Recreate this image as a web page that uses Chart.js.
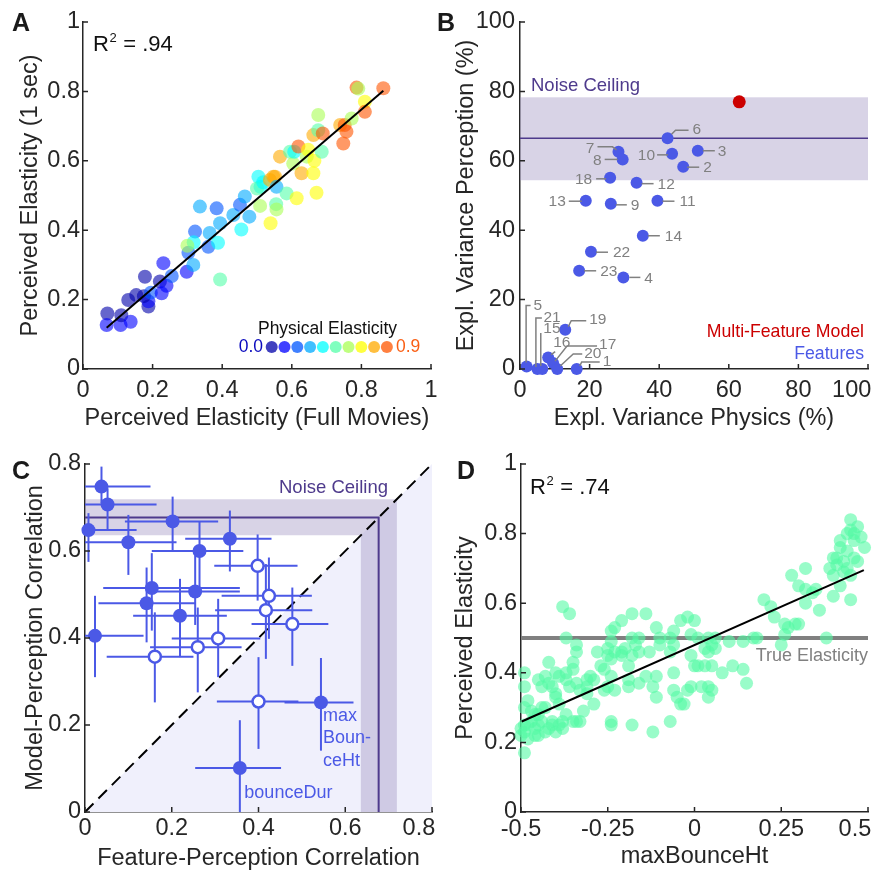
<!DOCTYPE html>
<html>
<head>
<meta charset="utf-8">
<script src="https://cdn.jsdelivr.net/npm/chart.js@4.4.1/dist/chart.umd.min.js"></script>
<style>
  html, body { margin: 0; padding: 0; background: #fff; width: 875px; height: 870px; overflow: hidden; }
  canvas { position: absolute; left: 0; top: 0; }
</style>
</head>
<body>
<canvas id="panelA" width="875" height="870"></canvas>
<canvas id="panelB" width="875" height="870"></canvas>
<canvas id="panelC" width="875" height="870"></canvas>
<canvas id="panelD" width="875" height="870"></canvas>
<script>
// ---------- Panel A: full movies vs 1-second clips ----------
// [perceived (full movies), perceived (1 sec), physical elasticity level 0..9]
const ratingsA = [
  [0.070,0.160,0],[0.068,0.127,1],[0.108,0.127,1],[0.110,0.155,0],[0.137,0.136,1],[0.130,0.199,0],
  [0.153,0.213,0],[0.178,0.266,0],[0.188,0.180,0],[0.188,0.195,1],[0.175,0.210,0],[0.195,0.220,2],
  [0.221,0.252,0],[0.226,0.218,1],[0.231,0.305,1],[0.240,0.240,1],[0.255,0.268,2],[0.298,0.280,1],
  [0.303,0.335,2],[0.317,0.300,3],[0.322,0.396,2],[0.336,0.468,3],[0.318,0.365,4],[0.300,0.355,6],
  [0.360,0.352,2],[0.364,0.392,3],[0.384,0.463,2],[0.388,0.364,4],[0.394,0.420,3],[0.394,0.258,5],
  [0.432,0.444,3],[0.451,0.473,2],[0.465,0.497,3],[0.455,0.402,4],[0.478,0.439,3],[0.504,0.554,4],
  [0.510,0.525,4],[0.500,0.520,5],[0.509,0.470,6],[0.518,0.538,4],[0.547,0.554,8],[0.552,0.554,8],
  [0.537,0.545,8],[0.556,0.525,3],[0.555,0.475,5],[0.556,0.460,6],[0.539,0.420,7],[0.566,0.612,8],
  [0.585,0.506,5],[0.595,0.626,5],[0.604,0.592,6],[0.607,0.626,4],[0.619,0.641,9],[0.614,0.492,7],
  [0.628,0.564,8],[0.643,0.612,6],[0.647,0.632,7],[0.662,0.564,7],[0.665,0.600,7],[0.671,0.508,7],
  [0.676,0.732,6],[0.662,0.674,8],[0.676,0.688,5],[0.686,0.626,5],[0.689,0.679,9],[0.739,0.703,8],
  [0.748,0.650,9],[0.757,0.684,9],[0.752,0.703,9],[0.772,0.722,6],[0.786,0.811,9],[0.791,0.808,6],
  [0.810,0.770,7],[0.810,0.741,9],[0.863,0.809,9]
];
const fitAx = [0.068, 0.863];
const fitAy = [0.119, 0.802];
const r2A = '.94';
const physLevelNames = ['0.0', '0.9'];
const ticksA = [0, 0.2, 0.4, 0.6, 0.8, 1];
const tickLabelsA = ['0', '0.2', '0.4', '0.6', '0.8', '1'];

// ---------- Panel B: explained variance per feature ----------
const featureIds     = [6, 3, 10, 2, 7, 8, 18, 12, 13, 9, 11, 14, 22, 23, 4, 19, 5, 21, 15, 16, 17, 20, 1];
const physicsExpl    = [42.4, 51.1, 43.7, 46.9, 28.3, 29.5, 25.9, 33.5, 18.9, 26.1, 39.5, 35.3, 20.4, 17.0, 29.7, 13.0, 1.9, 5.0, 6.4, 8.1, 9.5, 10.7, 16.3];
const perceptionExpl = [66.5, 62.9, 62.0, 58.3, 62.6, 60.4, 55.1, 53.7, 48.5, 47.6, 48.5, 38.4, 33.8, 28.3, 26.4, 11.3, 0.7, 0.0, 0.0, 3.3, 1.7, 0.0, 0.0];
const multiFeature   = [63.0, 77.0];
const noiseCeilB     = [54.4, 66.5, 78.3];   // lower, mean, upper
const ticksB = [0, 20, 40, 60, 80, 100];
const tickLabelsB = ['0', '20', '40', '60', '80', '100'];

// ---------- Panel C: feature vs model correlation with perception ----------
const featPercCorr  = [0.038,0.052,0.008,0.100,0.202,0.334,0.264,0.398,0.154,0.254,0.142,0.219,0.023,0.424,0.417,0.478,0.307,0.260,0.161,0.400,0.544,0.357];
const featPercLo    = [0.000,0.000,0.000,0.000,0.092,0.231,0.154,0.298,0.042,0.161,0.031,0.111,0.000,0.315,0.300,0.384,0.200,0.150,0.050,0.304,0.460,0.254];
const featPercHi    = [0.151,0.165,0.119,0.211,0.307,0.430,0.365,0.490,0.357,0.357,0.254,0.327,0.135,0.523,0.524,0.561,0.404,0.361,0.250,0.492,0.619,0.452];
const modelPercCorr = [0.748,0.707,0.648,0.620,0.668,0.628,0.600,0.566,0.515,0.507,0.480,0.451,0.405,0.497,0.464,0.432,0.399,0.379,0.357,0.254,0.252,0.101];
const modelPercLo   = [0.710,0.648,0.575,0.545,0.600,0.553,0.506,0.486,0.417,0.430,0.390,0.356,0.310,0.398,0.352,0.336,0.310,0.275,0.252,0.145,0.141,0.000];
const modelPercHi   = [0.794,0.744,0.687,0.683,0.725,0.693,0.667,0.638,0.595,0.590,0.562,0.536,0.497,0.585,0.570,0.516,0.490,0.470,0.459,0.356,0.354,0.211];
const filledMarker  = [1,1,1,1,1,1,1,0,1,1,1,1,1,0,0,0,0,0,0,0,1,1];
const noiseCeilC    = [0.636, 0.677, 0.719];
const ticksC = [0, 0.2, 0.4, 0.6, 0.8];
const tickLabelsC = ['0', '0.2', '0.4', '0.6', '0.8'];

// ---------- Panel D: maxBounceHt vs perceived elasticity ----------
const bounceVsPerceived = [
  [0.45,0.84],[0.47,0.82],[0.45,0.81],[0.46,0.80],[0.48,0.79],[0.44,0.80],[0.42,0.78],[0.46,0.78],[0.49,0.76],[0.42,0.76],
  [0.44,0.75],[0.40,0.73],[0.41,0.73],[0.43,0.72],[0.46,0.73],[0.39,0.70],[0.41,0.71],[0.44,0.70],[0.47,0.72],[0.40,0.68],
  [0.43,0.69],[0.45,0.68],[0.42,0.65],[0.40,0.62],[0.45,0.61],[0.38,0.50],
  [0.32,0.70],[0.28,0.68],[0.30,0.65],[0.32,0.64],[0.32,0.60],[0.36,0.58],[0.34,0.63],[0.35,0.64],[0.27,0.53],[0.26,0.54],
  [0.29,0.54],[0.30,0.54],[0.26,0.51],[0.23,0.56],[0.20,0.61],[0.22,0.59],[0.25,0.48],
  [0.18,0.50],[0.17,0.50],[0.14,0.49],[0.10,0.49],[0.06,0.50],[0.06,0.47],[0.04,0.50],[0.03,0.47],[0.04,0.46],[0.03,0.42],
  [0.05,0.42],[0.08,0.40],[0.11,0.42],[0.14,0.41],[0.15,0.37],[0.05,0.48],[0.00,0.55],[-0.02,0.56],[-0.04,0.55],[-0.06,0.52],
  [-0.07,0.50],[-0.01,0.51],[0.01,0.50],[-0.01,0.45],[0.00,0.42],[0.01,0.42],[-0.01,0.36],[0.02,0.36],[-0.02,0.35],[0.04,0.36],
  [0.04,0.33],[0.05,0.35],[-0.06,0.40],[-0.07,0.46],[-0.06,0.35],[-0.05,0.33],[-0.04,0.31],[-0.07,0.26],[-0.11,0.33],[-0.11,0.39],
  [-0.12,0.36],[-0.14,0.39],[-0.10,0.50],[-0.10,0.48],[-0.06,0.48],[-0.11,0.53],[-0.14,0.57],[-0.16,0.50],[-0.13,0.46],[-0.16,0.46],
  [-0.18,0.57],[-0.18,0.50],[-0.17,0.48],[-0.18,0.45],[-0.19,0.42],[-0.19,0.36],[-0.19,0.38],[-0.16,0.37],[-0.18,0.25],[-0.21,0.55],
  [-0.23,0.53],[-0.24,0.52],[-0.24,0.49],[-0.25,0.47],[-0.25,0.45],[-0.24,0.44],[-0.27,0.42],[-0.26,0.41],[-0.24,0.39],[-0.23,0.35],
  [-0.25,0.36],[-0.26,0.35],[-0.24,0.26],[-0.24,0.25],[-0.23,0.46],[-0.21,0.46],[-0.21,0.45],[-0.20,0.47],[-0.12,0.23],[-0.03,0.31],
  [-0.38,0.59],[-0.36,0.57],[-0.37,0.50],[-0.34,0.48],[-0.34,0.46],[-0.35,0.43],[-0.35,0.41],[-0.34,0.37],[-0.37,0.40],[-0.37,0.38],
  [-0.36,0.36],[-0.39,0.39],[-0.40,0.40],[-0.42,0.43],[-0.43,0.39],[-0.42,0.37],[-0.41,0.36],[-0.45,0.38],[-0.44,0.36],[-0.40,0.34],
  [-0.40,0.33],[-0.39,0.31],[-0.37,0.28],[-0.38,0.26],[-0.35,0.26],[-0.34,0.26],[-0.33,0.26],[-0.32,0.29],[-0.31,0.38],[-0.31,0.36],
  [-0.30,0.39],[-0.29,0.38],[-0.29,0.31],[-0.28,0.46],[-0.31,0.34],[-0.33,0.35],[-0.49,0.40],[-0.49,0.36],[-0.49,0.30],[-0.48,0.32],
  [-0.47,0.29],[-0.46,0.28],[-0.47,0.26],[-0.49,0.25],[-0.50,0.24],[-0.49,0.23],[-0.48,0.21],[-0.50,0.22],[-0.49,0.17],[-0.46,0.24],
  [-0.45,0.25],[-0.44,0.26],[-0.43,0.23],[-0.42,0.24],[-0.45,0.28],[-0.43,0.30],[-0.44,0.30],[-0.41,0.26],[-0.40,0.23],[-0.38,0.24],
  [-0.39,0.25],[-0.41,0.25],[-0.45,0.22],[-0.46,0.22],[-0.48,0.25]
];
const fitDx = [-0.498, 0.488];
const fitDy = [0.260, 0.695];
const trueElasticity = 0.5;
const r2D = '.74';
const ticksDx = [-0.5, -0.25, 0, 0.25, 0.5];
const tickLabelsDx = ['-0.5', '-0.25', '0', '0.25', '0.5'];
const ticksDy = [0, 0.2, 0.4, 0.6, 0.8, 1];
const tickLabelsDy = ['0', '0.2', '0.4', '0.6', '0.8', '1'];

// ---------- shared styling ----------
const FONT = '"Liberation Sans", Arial, Helvetica, sans-serif';
const INK = '#262626';
const TICK_SIZE = 23.5;
const TITLE_SIZE = 23.5;
const HALF_LINE = TICK_SIZE * 1.2 / 2;
const BLUE = '#4b59e6';
const PURPLE = 'rgb(78,58,140)';
const BAND = 'rgba(158,145,192,0.4)';
const GRAY = 'rgb(128,128,128)';
Chart.defaults.font.family = FONT;

// jet colour map sampled at 12 levels; the first ten are used
const JET = [[0,0,170],[0,0,255],[0,85,255],[0,170,255],[0,255,255],[85,255,170],[170,255,85],[255,255,0],[255,170,0],[255,85,0]];
const jet = (k, a) => `rgba(${JET[k][0]},${JET[k][1]},${JET[k][2]},${a})`;

function xAxis(o) {
  return {
    type: 'linear', position: 'bottom', min: o.min, max: o.max,
    afterBuildTicks: s => { s.ticks = o.ticks.map(v => ({ value: v })); },
    afterFit: s => { s.height = o.height; s.paddingLeft = 0; s.paddingRight = 0; s.paddingTop = 0; s.paddingBottom = 0; },
    grid: { display: false, drawTicks: false },
    border: { display: true, color: INK, width: 1.5 },
    ticks: {
      autoSkip: false, maxRotation: 0, minRotation: 0, color: INK, padding: o.labelGap,
      font: { family: FONT, size: TICK_SIZE },
      callback: (v, i) => o.labels[i] + (i === o.labels.length - 1 ? ' '.repeat(o.lastPad || 0) : '')
    },
    title: { display: true, text: o.title, color: INK, font: { family: FONT, size: TITLE_SIZE }, padding: { top: 0, bottom: o.titleGap } }
  };
}
function yAxis(o) {
  return {
    type: 'linear', position: 'left', min: o.min, max: o.max,
    afterBuildTicks: s => { s.ticks = o.ticks.map(v => ({ value: v })); },
    afterFit: s => { s.width = o.width; s.paddingLeft = 0; s.paddingRight = 0; s.paddingTop = 0; s.paddingBottom = 0; },
    grid: { display: false, drawTicks: false },
    border: { display: true, color: INK, width: 1.5 },
    ticks: {
      autoSkip: false, color: INK, padding: o.labelGap,
      font: { family: FONT, size: TICK_SIZE },
      callback: (v, i) => o.labels[i]
    },
    title: { display: true, text: o.title, color: INK, font: { family: FONT, size: TITLE_SIZE }, padding: { top: o.titleGap, bottom: 0 } }
  };
}

// short tick marks pointing into the plot
const inwardTicks = {
  id: 'inwardTicks',
  afterDraw(chart) {
    const { ctx, chartArea: a, scales: { x, y } } = chart;
    ctx.save();
    ctx.strokeStyle = INK; ctx.lineWidth = 1.5;
    ctx.beginPath();
    x.ticks.forEach(t => { const p = x.getPixelForValue(t.value); ctx.moveTo(p, a.bottom); ctx.lineTo(p, a.bottom - 5); });
    y.ticks.forEach(t => { const p = y.getPixelForValue(t.value); ctx.moveTo(a.left, p); ctx.lineTo(a.left + 5, p); });
    ctx.stroke();
    ctx.restore();
  }
};

function text(ctx, s, x, y, size, color, align, weight) {
  ctx.font = `${weight || 'normal'} ${size}px ${FONT}`;
  ctx.fillStyle = color;
  ctx.textAlign = align || 'left';
  ctx.textBaseline = 'middle';
  ctx.fillText(s, x, y);
}
function drawR2(ctx, x, baseline, val) {
  ctx.textAlign = 'left'; ctx.textBaseline = 'alphabetic'; ctx.fillStyle = '#111';
  ctx.font = `22px ${FONT}`;
  ctx.fillText('R', x, baseline);
  const w = ctx.measureText('R').width;
  ctx.font = `13px ${FONT}`;
  ctx.fillText('2', x + w + 0.5, baseline - 9);
  const w2 = ctx.measureText('2').width;
  ctx.font = `22px ${FONT}`;
  ctx.fillText(' = ' + val, x + w + w2 + 1, baseline);
}
function line(ctx, pts) {
  ctx.beginPath();
  pts.forEach((p, i) => i ? ctx.lineTo(p[0], p[1]) : ctx.moveTo(p[0], p[1]));
  ctx.stroke();
}

const baseOptions = (padding, scales, plugins) => ({
  responsive: false, animation: false, events: [], devicePixelRatio: 1,
  layout: { padding, autoPadding: false },
  plugins: Object.assign({ legend: { display: false }, tooltip: { enabled: false } }, plugins || {}),
  scales
});

// ================= Panel A =================
const decorA = {
  id: 'decorA',
  afterDraw(chart) {
    const { ctx, chartArea: a } = chart;
    ctx.save();
    text(ctx, 'A', 12, 24, 25, '#1a1a1a', 'left', 'bold');
    drawR2(ctx, a.left + 10, 51, r2A);
    // colour key for physical elasticity
    text(ctx, 'Physical Elasticity', 327.5, 329.5, 17.5, '#111', 'center');
    JET.forEach((c, k) => {
      ctx.fillStyle = jet(k, 0.75);
      ctx.beginPath(); ctx.arc(271.7 + k * 12.8, 347, 6, 0, Math.PI * 2); ctx.fill();
    });
    text(ctx, physLevelNames[0], 263, 347.5, 17.5, 'rgb(10,10,190)', 'right');
    text(ctx, physLevelNames[1], 396, 347.5, 17.5, 'rgb(250,95,20)', 'left');
    ctx.restore();
  }
};
new Chart(document.getElementById('panelA'), {
  type: 'scatter',
  data: { datasets: [
    { data: fitAx.map((v, i) => ({ x: v, y: fitAy[i] })), showLine: true, borderColor: '#000', borderWidth: 2, pointRadius: 0, order: 0, clip: false },
    { data: ratingsA.map(r => ({ x: r[0], y: r[1] })), backgroundColor: ratingsA.map(r => jet(r[2], 0.6)), borderWidth: 0, pointRadius: 7, order: 1, clip: false }
  ] },
  options: baseOptions({ left: 10, top: 22, right: 444, bottom: 437 }, {
    x: xAxis({ min: 0, max: 1, ticks: ticksA, labels: tickLabelsA, title: 'Perceived Elasticity (Full Movies)', height: 64, labelGap: 390.7 - 369 - HALF_LINE, titleGap: 0 }),
    y: yAxis({ min: 0, max: 1, ticks: ticksA, labels: tickLabelsA, title: 'Perceived Elasticity (1 sec)', width: 73, labelGap: 3, titleGap: 31 - 10 - HALF_LINE })
  }),
  plugins: [inwardTicks, decorA]
});

// ================= Panel B =================
// leader lines and label anchors, in pixels relative to each feature's marker
const leaderB = {
  6:  { path: [[4,-4],[8,-8],[21,-8]], at: [25,-9], align: 'left' },
  3:  { path: [[5,0],[17,0]], at: [20,1], align: 'left' },
  10: { path: [[-15,1],[-4,1]], at: [-17,2], align: 'right' },
  2:  { path: [[4,0.5],[16,0.5]], at: [20,1], align: 'left' },
  7:  { path: [[-21,-5],[-6,-5],[-2,-2]], at: [-24,-3], align: 'right' },
  8:  { path: [[-18,0],[-5,0]], at: [-21,1], align: 'right' },
  18: { path: [[-14,1],[-4,1]], at: [-18,1.5], align: 'right' },
  12: { path: [[5,1],[17,1]], at: [21,2], align: 'left' },
  13: { path: [[-17,0.5],[-4,0.5]], at: [-20,1.5], align: 'right' },
  9:  { path: [[5,1],[16,1]], at: [20,2], align: 'left' },
  11: { path: [[5,0.5],[17,0.5]], at: [22,1.5], align: 'left' },
  14: { path: [[5,0],[17,0]], at: [22,1], align: 'left' },
  22: { path: [[5,0.5],[17,0.5]], at: [22,1], align: 'left' },
  23: { path: [[5,0],[17,0]], at: [21,1], align: 'left' },
  4:  { path: [[6,0],[17,0]], at: [21,1], align: 'left' },
  19: { path: [[3,-3],[6,-9],[21,-9]], at: [24,-10], align: 'left' },
  5:  { path: [[-0.5,-4],[-0.5,-61],[4,-61]], at: [7,-61], align: 'left' },
  21: { path: [[-1.5,-2],[-1.5,-51],[4.5,-51]], at: [6,-51], align: 'left' },
  15: { path: [[-1.5,-3],[-1.5,-36]], at: [1,-40], align: 'left' },
  16: { path: [[3,-3],[7,-6]], at: [5,-15], align: 'left' },
  17: { path: [[2,-2],[14,-17],[44,-17]], at: [46,-18.5], align: 'left' },
  20: { path: [[3,-3],[16,-15],[25,-15]], at: [27,-15], align: 'left' },
  1:  { path: [[3,-3],[5,-7],[23,-7]], at: [26,-7], align: 'left' }
};
const decorB = {
  id: 'decorB',
  beforeDatasetsDraw(chart) {
    const { ctx, chartArea: a, scales: { y } } = chart;
    ctx.save();
    ctx.fillStyle = BAND;
    const top = y.getPixelForValue(noiseCeilB[2]), bot = y.getPixelForValue(noiseCeilB[0]);
    ctx.fillRect(a.left, top, a.right - a.left, bot - top);
    ctx.strokeStyle = PURPLE; ctx.lineWidth = 1.5;
    const m = y.getPixelForValue(noiseCeilB[1]);
    line(ctx, [[a.left, m], [a.right, m]]);
    ctx.restore();
  },
  afterDraw(chart) {
    const { ctx, chartArea: a, scales: { x, y } } = chart;
    ctx.save();
    ctx.strokeStyle = GRAY; ctx.lineWidth = 1.5;
    featureIds.forEach((id, i) => {
      const L = leaderB[id];
      const px = x.getPixelForValue(physicsExpl[i]), py = y.getPixelForValue(perceptionExpl[i]);
      line(ctx, L.path.map(p => [px + p[0], py + p[1]]));
      text(ctx, String(id), px + L.at[0], py + L.at[1], 15.5, GRAY, L.align);
    });
    text(ctx, 'B', 437, 24, 25, '#1a1a1a', 'left', 'bold');
    text(ctx, 'Noise Ceiling', a.left + 11, 85.5, 18.5, PURPLE, 'left');
    text(ctx, 'Multi-Feature Model', 864, 331.7, 17.7, 'rgb(204,0,0)', 'right');
    text(ctx, 'Features', 864, 354, 17.7, BLUE, 'right');
    ctx.restore();
  }
};
new Chart(document.getElementById('panelB'), {
  type: 'scatter',
  data: { datasets: [
    { data: [{ x: multiFeature[0], y: multiFeature[1] }], backgroundColor: 'rgb(204,0,0)', borderWidth: 0, pointRadius: 6.5, order: 0, clip: false },
    { data: featureIds.map((id, i) => ({ x: physicsExpl[i], y: perceptionExpl[i] })), backgroundColor: BLUE, borderWidth: 0, pointRadius: 6, order: 1, clip: false }
  ] },
  options: baseOptions({ left: 445, top: 22, right: 7, bottom: 437 }, {
    x: xAxis({ min: 0, max: 100, ticks: ticksB, labels: tickLabelsB, title: 'Expl. Variance Physics (%)', height: 64, labelGap: 390.7 - 369 - HALF_LINE, titleGap: 0, lastPad: 5 }),
    y: yAxis({ min: 0, max: 100, ticks: ticksB, labels: tickLabelsB, title: 'Expl. Variance Perception (%)', width: 75, labelGap: 5, titleGap: 467 - 445 - HALF_LINE })
  }),
  plugins: [inwardTicks, decorB]
});

// ================= Panel C =================
const decorC = {
  id: 'decorC',
  beforeDatasetsDraw(chart) {
    const { ctx, scales: { x, y } } = chart;
    const P = (vx, vy) => [x.getPixelForValue(vx), y.getPixelForValue(vy)];
    const fillPoly = pts => { ctx.beginPath(); pts.forEach((p, i) => i ? ctx.lineTo(p[0], p[1]) : ctx.moveTo(p[0], p[1])); ctx.closePath(); ctx.fill(); };
    ctx.save();
    // region where features beat the model (below identity)
    ctx.fillStyle = 'rgb(240,240,252)';
    fillPoly([P(0, 0), P(0.8, 0), P(0.8, 0.8)]);
    // noise ceiling band on both axes
    const [lo, mid, hi] = noiseCeilC;
    ctx.fillStyle = BAND;
    fillPoly([P(0, hi), P(hi, hi), P(hi, 0), P(lo, 0), P(lo, lo), P(0, lo)]);
    ctx.strokeStyle = PURPLE; ctx.lineWidth = 2;
    line(ctx, [P(0, mid), P(mid, mid), P(mid, 0)]);
    ctx.restore();
  },
  afterDatasetDraw(chart, args) {
    if (args.index !== 2) return;   // error bars go above the identity line, below the markers
    const { ctx, scales: { x, y } } = chart;
    ctx.save();
    ctx.strokeStyle = BLUE; ctx.lineWidth = 2;
    featPercCorr.forEach((fx, i) => {
      const px = x.getPixelForValue(fx), py = y.getPixelForValue(modelPercCorr[i]);
      line(ctx, [[x.getPixelForValue(featPercLo[i]), py], [x.getPixelForValue(featPercHi[i]), py]]);
      line(ctx, [[px, y.getPixelForValue(modelPercLo[i])], [px, y.getPixelForValue(modelPercHi[i])]]);
    });
    ctx.restore();
  },
  afterDraw(chart) {
    const { ctx, scales: { x, y } } = chart;
    ctx.save();
    text(ctx, 'C', 12, 472, 25, '#1a1a1a', 'left', 'bold');
    text(ctx, 'Noise Ceiling', 388, 488.3, 18.5, PURPLE, 'right');
    const n = featPercCorr.length;
    const mx = x.getPixelForValue(featPercCorr[n - 2]), my = y.getPixelForValue(modelPercCorr[n - 2]);
    ['max', 'Boun-', 'ceHt'].forEach((s, k) => text(ctx, s, mx + 2, my + 13.5 + k * 22.5, 18, BLUE, 'left'));
    const bx = x.getPixelForValue(featPercCorr[n - 1]), by = y.getPixelForValue(modelPercCorr[n - 1]);
    text(ctx, 'bounceDur', bx + 4.5, by + 25, 18, BLUE, 'left');
    ctx.restore();
  }
};
const ptsC = keep => featPercCorr.map((v, i) => ({ x: v, y: modelPercCorr[i] })).filter((p, i) => filledMarker[i] === keep);
new Chart(document.getElementById('panelC'), {
  type: 'scatter',
  data: { datasets: [
    { data: ptsC(1), backgroundColor: BLUE, borderWidth: 0, pointRadius: 7, order: 0, clip: false },
    { data: ptsC(0), backgroundColor: '#fff', borderColor: BLUE, borderWidth: 2.5, pointRadius: 6, order: 1, clip: false },
    { data: [{ x: 0, y: 0 }, { x: 0.8, y: 0.8 }], showLine: true, borderColor: '#000', borderWidth: 2, borderDash: [12, 7], pointRadius: 0, order: 5, clip: false }
  ] },
  options: baseOptions({ left: 10, top: 464, right: 443, bottom: 0 }, {
    x: xAxis({ min: 0, max: 0.8, ticks: ticksC, labels: tickLabelsC, title: 'Feature-Perception Correlation', height: 58, labelGap: 828.3 - 812 - HALF_LINE, titleGap: 870 - HALF_LINE - 858.3, lastPad: 4 }),
    y: yAxis({ min: 0, max: 0.8, ticks: ticksC, labels: tickLabelsC, title: 'Model-Perception Correlation', width: 75, labelGap: 4, titleGap: 36 - 10 - HALF_LINE })
  }),
  plugins: [inwardTicks, decorC]
});

// ================= Panel D =================
const decorD = {
  id: 'decorD',
  afterDraw(chart) {
    const { ctx, chartArea: a, scales: { y } } = chart;
    ctx.save();
    text(ctx, 'D', 457, 472, 25, '#1a1a1a', 'left', 'bold');
    drawR2(ctx, a.left + 9, 494, r2D);
    text(ctx, 'True Elasticity', a.right, y.getPixelForValue(trueElasticity) + 18.5, 18, GRAY, 'right');
    ctx.restore();
  }
};
new Chart(document.getElementById('panelD'), {
  type: 'scatter',
  data: { datasets: [
    { data: fitDx.map((v, i) => ({ x: v, y: fitDy[i] })), showLine: true, borderColor: '#000', borderWidth: 2, pointRadius: 0, order: 0, clip: false },
    { data: bounceVsPerceived.map(p => ({ x: p[0], y: p[1] })), backgroundColor: 'rgba(85,250,165,0.6)', borderWidth: 0, pointRadius: 6.5, order: 1, clip: false },
    { data: [{ x: -0.5, y: trueElasticity }, { x: 0.5, y: trueElasticity }], showLine: true, borderColor: GRAY, borderWidth: 4, pointRadius: 0, order: 2, clip: false }
  ] },
  options: baseOptions({ left: 445, top: 464, right: 7, bottom: 0 }, {
    x: xAxis({ min: -0.5, max: 0.5, ticks: ticksDx, labels: tickLabelsDx, title: 'maxBounceHt', height: 58, labelGap: 829.3 - 812 - HALF_LINE, titleGap: 870 - HALF_LINE - 856.7, lastPad: 4 }),
    y: yAxis({ min: 0, max: 1, ticks: ticksDy, labels: tickLabelsDy, title: 'Perceived Elasticity', width: 76, labelGap: 4, titleGap: 466 - 445 - HALF_LINE })
  }),
  plugins: [inwardTicks, decorD]
});
</script>
</body>
</html>
